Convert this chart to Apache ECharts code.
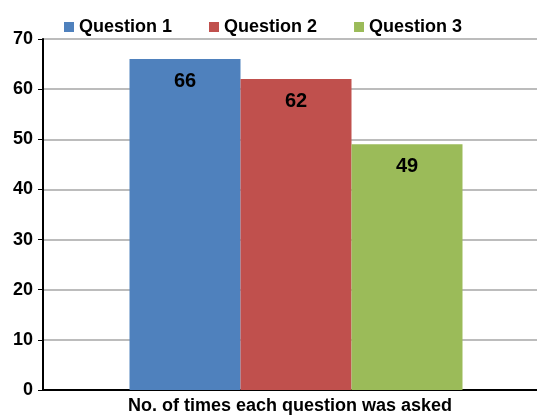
<!DOCTYPE html>
<html><head><meta charset="utf-8">
<script src="https://cdn.jsdelivr.net/npm/echarts@6/dist/echarts.min.js"></script>
<style>html,body{margin:0;padding:0;background:#fff}#c{width:537px;height:415px}</style>
</head><body><div id="c"></div>
<script>
const categories = ['No. of times each question was asked'];
const seriesNames = ['Question 1', 'Question 2', 'Question 3'];
const q1 = [66];
const q2 = [62];
const q3 = [49];
const colors = ['#4F81BD', '#C0504D', '#9BBB59'];
const chart = echarts.init(document.getElementById('c'));
const font = 'Liberation Sans, Arial, sans-serif';
const mk = (name, data, color) => ({
  name, type: 'bar', data, barWidth: 111, barGap: '0%',
  itemStyle: { color },
  label: { show: true, position: 'insideTop', distance: 12, color: '#000', fontWeight: 'bold', fontSize: 20, fontFamily: font }
});
chart.setOption({
  animation: false,
  legend: {
    top: 13, left: 59, itemWidth: 10, itemHeight: 10, itemGap: 37,
    icon: 'rect',
    textStyle: { fontWeight: 'bold', fontSize: 18, color: '#000', fontFamily: font },
    data: seriesNames
  },
  grid: { left: 43, right: -12, top: 39, bottom: 25, containLabel: false, outerBoundsMode: 'none' },
  xAxis: {
    type: 'category', data: categories,
    axisLine: { lineStyle: { color: '#000', width: 2 } },
    axisTick: { show: false },
    axisLabel: { show: false },
    name: categories[0], nameLocation: 'middle', nameGap: 7,
    nameTextStyle: { fontWeight: 'bold', fontSize: 18, color: '#000', fontFamily: font, padding: [0, 12, 0, 0], verticalAlign: 'top' }
  },
  yAxis: {
    type: 'value', min: 0, max: 70, interval: 10,
    axisLine: { show: true, lineStyle: { color: '#000', width: 2 } },
    axisTick: { show: true, length: 5, lineStyle: { color: '#000', width: 1 } },
    axisLabel: { color: '#000', fontWeight: 'bold', fontSize: 18, fontFamily: font, margin: 10 },
    splitLine: { lineStyle: { color: '#a6a6a6', width: 1.5 } }
  },
  series: [mk(seriesNames[0], q1, colors[0]), mk(seriesNames[1], q2, colors[1]), mk(seriesNames[2], q3, colors[2])]
});
</script></body></html>
